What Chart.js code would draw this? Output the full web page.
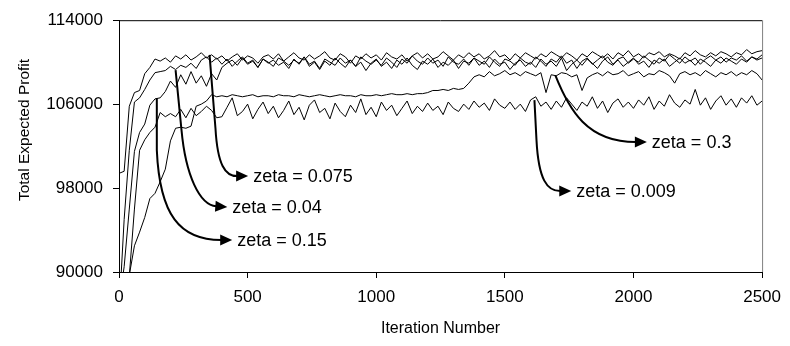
<!DOCTYPE html>
<html>
<head>
<meta charset="utf-8">
<script src="https://cdn.jsdelivr.net/npm/chart.js@4/dist/chart.umd.min.js"></script>
<style>
html,body{margin:0;padding:0;background:#fff;}
canvas{display:block;}
</style>
</head>
<body>
<canvas id="c" width="790" height="346"></canvas>
<script>
const ITERATIONS = [
  0,20,40,60,80,100,120,140,160,180,
  200,220,240,260,280,300,320,340,360,380,
  400,420,440,460,480,500,520,540,560,580,
  600,620,640,660,680,700,720,740,760,780,
  800,820,840,860,880,900,920,940,960,980,
  1000,1020,1040,1060,1080,1100,1120,1140,1160,1180,
  1200,1220,1240,1260,1280,1300,1320,1340,1360,1380,
  1400,1420,1440,1460,1480,1500,1520,1540,1560,1580,
  1600,1620,1640,1660,1680,1700,1720,1740,1760,1780,
  1800,1820,1840,1860,1880,1900,1920,1940,1960,1980,
  2000,2020,2040,2060,2080,2100,2120,2140,2160,2180,
  2200,2220,2240,2260,2280,2300,2320,2340,2360,2380,
  2400,2420,2440,2460,2480,2500
];

const ZETA_0075 = [
  99400,99600,105800,107100,107300,108900,109500,110300,110100,110400,
  110000,110600,110300,110700,110200,110500,110900,110400,110700,110300,
  110600,110100,110500,110800,110200,110600,110400,109900,110500,110700,
  110300,110800,110100,110500,110900,110400,110200,110700,110300,110600,
  111000,110400,110200,110800,110500,109900,110600,110300,110800,110400,
  110700,110200,110900,110500,110300,110700,110100,110600,110900,110400,
  110800,110300,110500,111000,110600,110200,110700,110400,110900,110500,
  110800,110300,110600,111100,110500,110700,110200,110800,110400,110900,
  110600,110300,110800,110500,111000,110700,110400,110900,110600,110200,
  110800,110500,111000,110700,110400,110800,110300,110900,110600,111100,
  110500,110800,110400,110900,110700,111000,110500,110800,110600,110300,
  110900,110600,111100,110700,110500,110900,110600,111000,110800,110500,
  110900,110700,111200,110800,111000,111100
];

const ZETA_004 = [
  86000,95000,101600,106200,106600,107400,108300,109000,109100,109200,
  109600,109300,109700,109500,109900,109400,110200,110500,110000,110400,
  109800,110300,109600,110100,110500,109900,110200,109500,110300,110000,
  109600,110400,110100,109700,110200,109900,110500,109800,110100,109400,
  110300,110000,109700,110400,109900,110200,109600,110500,110100,109800,
  110200,109700,110400,110000,109500,110300,109900,110600,110100,109800,
  110400,109900,110200,109600,110500,110000,109800,110300,109700,110400,
  110100,109800,110500,110000,109600,110300,110100,109700,110400,110000,
  109800,110500,110100,109600,110300,110000,110600,109900,110200,109400,
  110100,110400,109800,110200,110600,110000,109700,110300,110500,109900,
  110300,110000,110600,110200,109800,110400,110100,110700,110300,109900,
  110500,110100,110400,109800,110300,110600,110200,110500,110000,110400,
  110200,110600,110100,110500,110300,110700
];

const ZETA_015 = [
  87000,90500,96000,101500,103300,104100,105900,106500,106600,107200,
  108200,107600,108800,107900,109100,108000,108700,107700,108900,108300,
  109500,109900,110200,109700,110400,109800,110100,109500,110300,109900,
  110200,109700,110000,109400,110300,109800,110500,109600,110000,109300,
  110100,109700,110400,109900,109500,110200,109600,110000,109200,109900,
  110300,109600,110000,109400,110200,109800,110400,109700,109300,110100,
  109800,110300,109500,110000,109700,110200,109400,110100,109900,110400,
  109700,110100,109500,110300,109800,110000,109300,109900,110200,109600,
  110000,109500,110300,109800,110100,109600,110400,109200,109800,110200,
  109700,110300,109900,109400,110100,110500,109800,110200,109600,110000,
  110400,109800,110100,109500,110200,109900,110300,109600,110000,110400,
  109900,110200,109700,110300,110000,109600,110200,109900,110400,110100,
  109800,110300,110000,110500,110200,110400
];

const ZETA_0009 = [
  85000,87500,89600,96000,101600,102600,103300,103800,105200,104800,
  105100,104800,105500,104700,105600,104900,105300,105800,105400,104700,
  104800,105700,106600,104900,105300,106000,104600,105500,106200,105100,
  105800,104700,105400,106300,105000,105700,104500,105900,106400,105200,
  105600,104600,106100,105300,104800,105900,105200,106500,105000,105700,
  104800,106200,105400,105900,104900,105600,106300,105100,105800,105300,
  106100,105400,105800,105000,106200,105600,105300,106000,105500,106300,
  105700,106100,105400,106500,105900,105600,106200,105500,106000,105300,
  106400,106700,105800,106200,105500,106300,105700,106600,106000,105400,
  106200,105800,106700,105600,106300,105200,106100,106500,105700,106200,
  105600,106400,105900,106700,105500,106300,105800,106900,106100,105700,
  106400,106000,107400,105900,106600,105500,106300,106800,105900,106500,
  105700,106600,106100,106800,105900,106300
];

const ZETA_03 = [
  83000,86000,89700,92500,93800,95200,97000,97500,98600,99800,
  102500,103700,103800,103700,103900,105800,106000,106300,106900,106700,
  106800,106700,106900,106800,106700,106800,106900,106700,106800,106800,
  106700,106900,106800,106800,106700,106900,106800,106700,106800,106900,
  106800,106700,106800,106900,106800,106800,106700,106900,106800,106800,
  106900,106800,106900,107000,106900,106900,107000,106900,107000,107000,
  107100,107300,107300,107400,107300,107500,107400,107500,108000,108600,
  108800,108600,109100,108700,108900,109200,108800,109000,108700,109100,
  108900,108700,109000,107100,108800,108700,109000,108900,108600,108800,
  107300,108500,108800,109000,108700,109100,108800,108900,109200,108700,
  108900,109100,108600,108900,108800,109200,109000,108700,108000,108900,
  109100,108800,109000,108700,109200,108900,108600,109000,108800,109100,
  108700,109000,108800,109200,108900,108300
];

const SERIES = [
  {name:'zeta = 0.075', values: ZETA_0075},
  {name:'zeta = 0.04',  values: ZETA_004},
  {name:'zeta = 0.15',  values: ZETA_015},
  {name:'zeta = 0.009', values: ZETA_0009},
  {name:'zeta = 0.3',   values: ZETA_03}
];

const Y_TICKS = [90000, 98000, 106000, 114000];
const X_TICKS = [0, 500, 1000, 1500, 2000, 2500];
const Y_TITLE = 'Total Expected Profit';
const X_TITLE = 'Iteration Number';

// Annotation arrows, in data units (iteration, profit)
const ANNOTATIONS = [
  {text:'zeta = 0.075', start:[352,110700], bend:[375,103700], c1:[383,100200], c2:[413,99140], tip:[502,99140]},
  {text:'zeta = 0.04',  start:[220,109240], bend:[243,103520], c1:[259,99240],  c2:[313,96380], tip:[421,96190]},
  {text:'zeta = 0.15',  start:[147,106570], bend:[147,101620], c1:[158,95430],  c2:[236,93050], tip:[440,93050]},
  {text:'zeta = 0.3',   start:[1696,108760], bend:[1696,108760], c1:[1750,105430], c2:[1820,102380], tip:[2052,102380]},
  {text:'zeta = 0.009', start:[1615,106380], bend:[1623,102570], c1:[1631,98760], c2:[1665,97710], tip:[1758,97710]}
];

const FONT = 'Arial, "Liberation Sans", sans-serif';

const arrowPlugin = {
  id: 'arrows',
  afterDatasetsDraw(chart) {
    const {ctx, scales:{x, y}} = chart;
    const P = p => [x.getPixelForValue(p[0]), y.getPixelForValue(p[1])];
    ctx.save();
    ctx.strokeStyle = '#000';
    ctx.fillStyle = '#000';
    ctx.lineWidth = 2;
    ctx.lineJoin = 'round';
    ANNOTATIONS.forEach(a => {
      const s = P(a.start), b = P(a.bend), c1 = P(a.c1), c2 = P(a.c2), t = P(a.tip);
      const dx = t[0]-c2[0], dy = t[1]-c2[1];
      const len = Math.hypot(dx, dy) || 1;
      const ux = dx/len, uy = dy/len;
      const headLen = 12, headW = 5.5;
      const base = [t[0]-ux*headLen, t[1]-uy*headLen];
      ctx.beginPath();
      ctx.moveTo(s[0], s[1]);
      ctx.lineTo(b[0], b[1]);
      ctx.bezierCurveTo(c1[0], c1[1], c2[0], c2[1], base[0]+ux, base[1]+uy);
      ctx.stroke();
      ctx.beginPath();
      ctx.moveTo(t[0], t[1]);
      ctx.lineTo(base[0]-uy*headW, base[1]+ux*headW);
      ctx.lineTo(base[0]+uy*headW, base[1]-ux*headW);
      ctx.closePath();
      ctx.fill();
      ctx.font = '18px ' + FONT;
      ctx.textAlign = 'left';
      ctx.textBaseline = 'middle';
      ctx.fillText(a.text, t[0]+5, t[1]+1);
    });
    ctx.restore();
  },
  afterDraw(chart) {
    const {ctx, chartArea:{left, right, top, bottom}} = chart;
    ctx.save();
    ctx.lineWidth = 1;
    ctx.strokeStyle = '#000';
    ctx.beginPath();
    ctx.moveTo(left, top + 0.5);
    ctx.lineTo(right, top + 0.5);
    ctx.stroke();
    ctx.strokeStyle = '#808080';
    ctx.beginPath();
    ctx.moveTo(right + 0.5, top);
    ctx.lineTo(right + 0.5, bottom);
    ctx.stroke();
    // y axis title
    ctx.fillStyle = '#000';
    ctx.font = '15.5px ' + FONT;
    ctx.textAlign = 'center';
    ctx.textBaseline = 'middle';
    ctx.translate(25, 130);
    ctx.rotate(-Math.PI/2);
    ctx.fillText(Y_TITLE, 0, 0);
    ctx.restore();
  }
};

const datasets = SERIES.map(s => ({
  label: s.name,
  data: s.values.map((v, i) => ({x: ITERATIONS[i], y: v})),
  borderColor: '#000',
  borderWidth: 1,
  pointRadius: 0,
  tension: 0,
  fill: false
}));

new Chart(document.getElementById('c'), {
  type: 'line',
  data: { datasets },
  options: {
    responsive: false,
    animation: false,
    layout: { padding: { left: 12, right: 24, top: 20, bottom: 0 } },
    plugins: { legend: { display: false }, tooltip: { enabled: false } },
    scales: {
      x: {
        type: 'linear',
        min: 0, max: 2500,
        afterFit(scale) { scale.height = 74; },
        afterBuildTicks(scale) { scale.ticks = X_TICKS.map(v => ({value: v})); },
        ticks: { color: '#000', font: { family: FONT, size: 17 }, padding: 9, maxRotation: 0, callback: v => String(v) },
        grid: { display: true, drawOnChartArea: false, drawTicks: true, tickLength: 6, color: '#000' },
        border: { display: true, color: '#000', width: 1 },
        title: { display: true, text: X_TITLE, color: '#000', font: { family: FONT, size: 16 }, padding: { top: 4, bottom: 8 } }
      },
      y: {
        type: 'linear',
        min: 90000, max: 114000,
        afterFit(scale) { scale.width = 107; },
        afterBuildTicks(scale) { scale.ticks = Y_TICKS.map(v => ({value: v})); },
        ticks: { color: '#000', font: { family: FONT, size: 17 }, padding: 10, callback: v => String(v) },
        grid: { display: true, drawOnChartArea: false, drawTicks: true, tickLength: 6, color: '#000' },
        border: { display: true, color: '#000', width: 1 },
        title: { display: false }
      }
    }
  },
  plugins: [arrowPlugin]
});
</script>
</body>
</html>
